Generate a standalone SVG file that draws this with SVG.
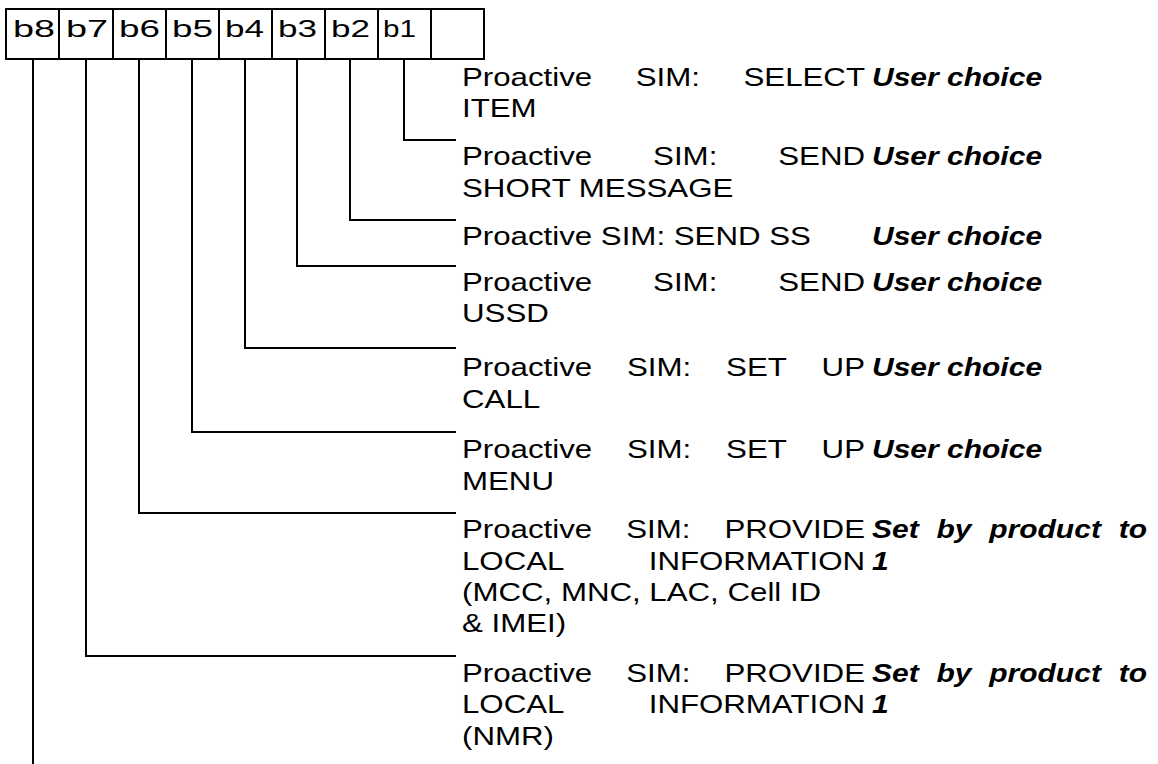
<svg xmlns="http://www.w3.org/2000/svg" width="1158" height="764" viewBox="0 0 1158 764">
<style>
text{font-family:"Liberation Sans",Arial,sans-serif;font-size:25px;fill:#000}
.it{font-style:italic;font-weight:bold}
.lb{font-size:24px}
.box{fill:#fff;stroke:#000;stroke-width:2}
.con{fill:none;stroke:#000;stroke-width:2}
.e{text-anchor:end}
</style>
<rect width="1158" height="764" fill="#fff"/>
<g id="register">
<rect class="box" x="6" y="9" width="53" height="50"/>
<rect class="box" x="59" y="9" width="54" height="50"/>
<rect class="box" x="113" y="9" width="53" height="50"/>
<rect class="box" x="166" y="9" width="53" height="50"/>
<rect class="box" x="219" y="9" width="53" height="50"/>
<rect class="box" x="272" y="9" width="53" height="50"/>
<rect class="box" x="325" y="9" width="53" height="50"/>
<rect class="box" x="378" y="9" width="53" height="50"/>
<rect class="box" x="431" y="9" width="53" height="50"/>
<text class="lb" x="13" y="37" textLength="42" lengthAdjust="spacingAndGlyphs">b8</text>
<text class="lb" x="66" y="37" textLength="42" lengthAdjust="spacingAndGlyphs">b7</text>
<text class="lb" x="119" y="37" textLength="41" lengthAdjust="spacingAndGlyphs">b6</text>
<text class="lb" x="172" y="37" textLength="41" lengthAdjust="spacingAndGlyphs">b5</text>
<text class="lb" x="225" y="37" textLength="39" lengthAdjust="spacingAndGlyphs">b4</text>
<text class="lb" x="278" y="37" textLength="39" lengthAdjust="spacingAndGlyphs">b3</text>
<text class="lb" x="331" y="37" textLength="39" lengthAdjust="spacingAndGlyphs">b2</text>
<text class="lb" x="383" y="37" textLength="33" lengthAdjust="spacingAndGlyphs">b1</text>
</g>
<g id="connectors">
<path class="con" d="M404 59V140H456"/>
<path class="con" d="M350 59V220H456"/>
<path class="con" d="M297 59V266H456"/>
<path class="con" d="M245 59V348H456"/>
<path class="con" d="M192 59V432H456"/>
<path class="con" d="M139 59V513H456"/>
<path class="con" d="M86 59V656H456"/>
<path class="con" d="M33 59V764"/>
</g>
<g id="labels" transform="translate(462,0) scale(1.25,1)">
<g id="b1-label">
<text y="86"><tspan x="0">Proactive</tspan><tspan x="139">SIM:</tspan><tspan x="322.4" class="e">SELECT</tspan></text>
<text x="0" y="117">ITEM</text>
</g>
<g id="b2-label">
<text y="165"><tspan x="0">Proactive</tspan><tspan x="152.9">SIM:</tspan><tspan x="322.4" class="e">SEND</tspan></text>
<text x="0" y="197">SHORT MESSAGE</text>
</g>
<g id="b3-label">
<text x="0" y="245">Proactive SIM: SEND SS</text>
</g>
<g id="b4-label">
<text y="291"><tspan x="0">Proactive</tspan><tspan x="152.9">SIM:</tspan><tspan x="322.4" class="e">SEND</tspan></text>
<text x="0" y="322">USSD</text>
</g>
<g id="b5-label">
<text y="376"><tspan x="0">Proactive</tspan><tspan x="132">SIM:</tspan><tspan x="211.3">SET</tspan><tspan x="322.4" class="e">UP</tspan></text>
<text x="0" y="408">CALL</text>
</g>
<g id="b6-label">
<text y="458"><tspan x="0">Proactive</tspan><tspan x="132">SIM:</tspan><tspan x="211.3">SET</tspan><tspan x="322.4" class="e">UP</tspan></text>
<text x="0" y="490">MENU</text>
</g>
<g id="b7-label">
<text y="538"><tspan x="0">Proactive</tspan><tspan x="131.4">SIM:</tspan><tspan x="322.4" class="e">PROVIDE</tspan></text>
<text y="570"><tspan x="0">LOCAL</tspan><tspan x="322.4" class="e">INFORMATION</tspan></text>
<text x="0" y="601">(MCC, MNC, LAC, Cell ID</text>
<text x="0" y="632">&amp; IMEI)</text>
</g>
<g id="b8-label">
<text y="682"><tspan x="0">Proactive</tspan><tspan x="131.4">SIM:</tspan><tspan x="322.4" class="e">PROVIDE</tspan></text>
<text y="713"><tspan x="0">LOCAL</tspan><tspan x="322.4" class="e">INFORMATION</tspan></text>
<text x="0" y="745">(NMR)</text>
</g>
</g>
<g id="values" transform="translate(872,0) scale(1.2,1)">
<text class="it" x="0" y="86">User choice</text>
<text class="it" x="0" y="165">User choice</text>
<text class="it" x="0" y="245">User choice</text>
<text class="it" x="0" y="291">User choice</text>
<text class="it" x="0" y="376">User choice</text>
<text class="it" x="0" y="458">User choice</text>
<text class="it" y="538"><tspan x="0">Set</tspan><tspan x="53.7">by</tspan><tspan x="97.7">product</tspan><tspan x="229.2" class="e">to</tspan></text>
<text class="it" x="0" y="570">1</text>
<text class="it" y="682"><tspan x="0">Set</tspan><tspan x="53.7">by</tspan><tspan x="97.7">product</tspan><tspan x="229.2" class="e">to</tspan></text>
<text class="it" x="0" y="713">1</text>
</g>
</svg>
